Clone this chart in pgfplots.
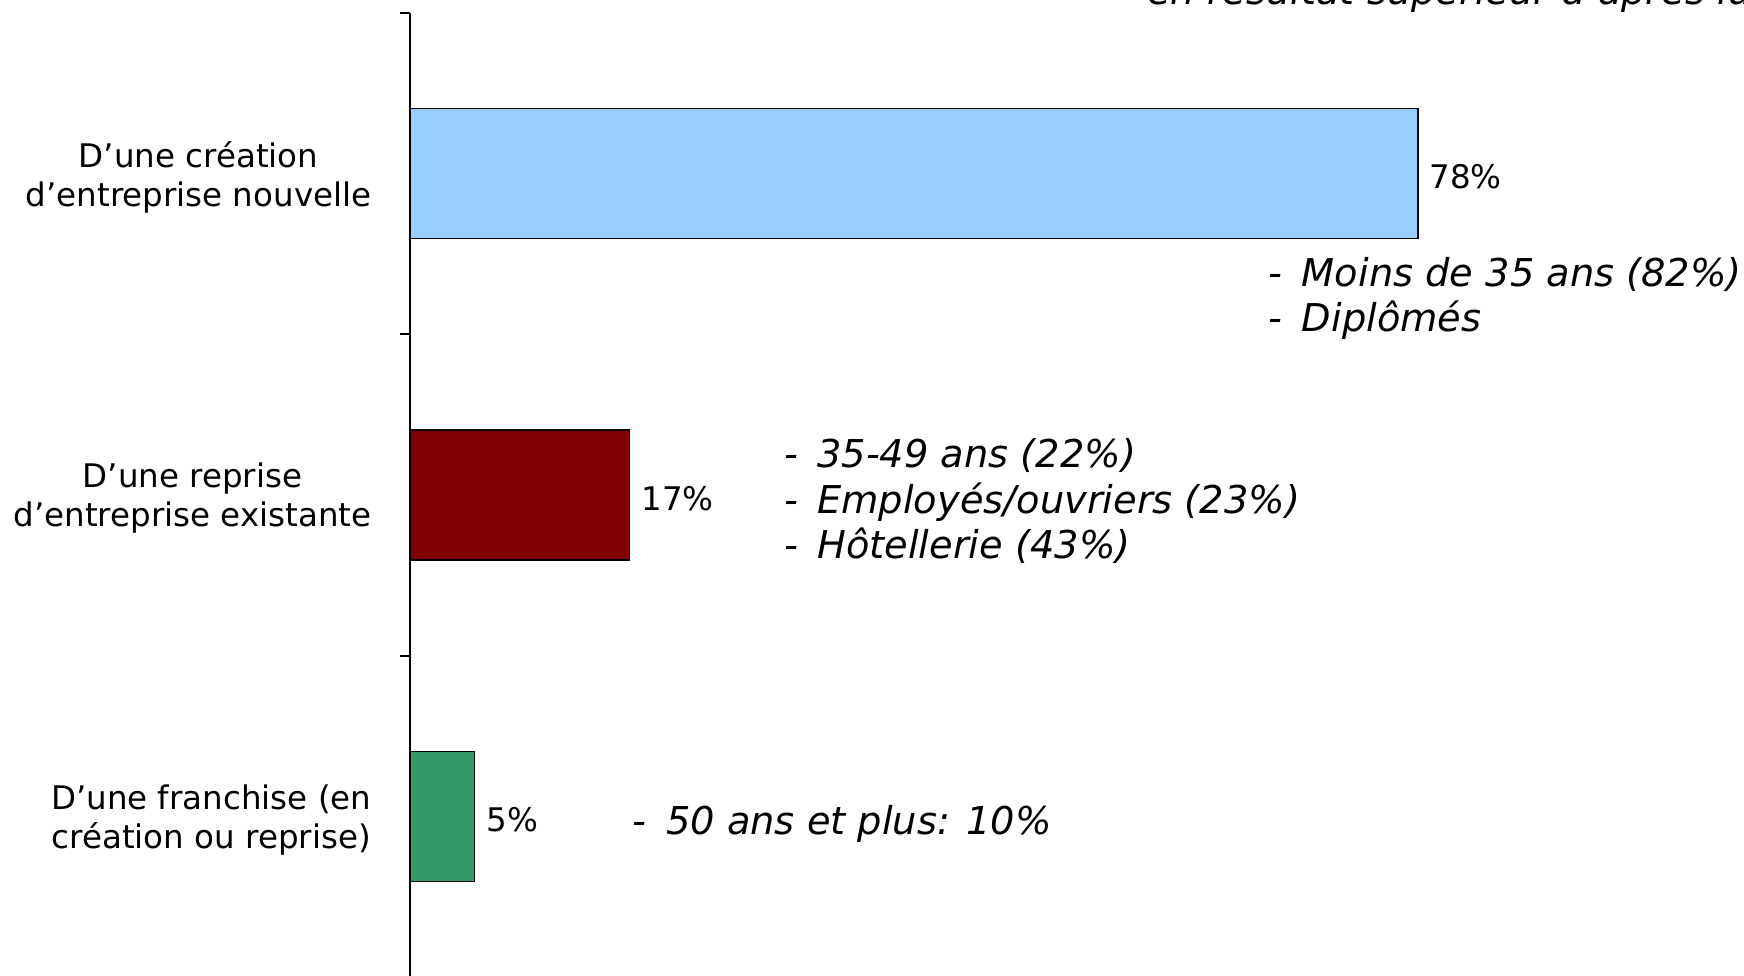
\documentclass[border=0pt]{standalone}
\usepackage{fontspec}
\setmainfont{DejaVu Sans}
\usepackage{pgfplots}
\pgfplotsset{compat=1.18}
\definecolor{barblue}{RGB}{153,204,255}
\definecolor{barred}{RGB}{128,0,0}
\definecolor{bargreen}{RGB}{51,153,102}
\newcommand{\lab}{\fontsize{9.75}{11.7}\selectfont}
\newcommand{\note}{\fontsize{11.5}{13.6}\selectfont\itshape}
\newcommand{\dash}{\makebox[10pt][l]{-}}

\begin{document}
\begin{tikzpicture}
\begin{axis}[
  name=ax,
  scale only axis, width=400.2pt, height=289.2pt,
  xbar, bar width=39pt, bar shift=0pt,
  xmin=0, xmax=103.25,
  ymin=-0.5, ymax=2.5, y dir=reverse,
  axis x line=none, axis y line*=left,
  ytick={0,1,2},
  yticklabels={{D’une création\\d’entreprise nouvelle},
               {D’une reprise\\d’entreprise existante},
               {D’une franchise (en\\création ou reprise)}},
  minor ytick={-0.5,0.5,1.5},
  tick align=outside, major tick length=0pt, minor tick length=3pt,
  yticklabel style={align=center,font=\lab,inner sep=0pt,yshift=-1pt},
  yticklabel shift=11.4pt,
  axis line style={line width=0.6pt},
  minor tick style={line width=0.6pt,black},
  clip=false,
  point meta=x,
  nodes near coords={\pgfmathprintnumber[assume math mode=true]{\pgfplotspointmeta}\%},
  every node near coord/.append style={font=\lab,inner sep=0pt,xshift=3.3pt,yshift=-1pt,anchor=west,black},
]
\addplot[fill=barblue,draw=black,line width=0.5pt,bar shift=0pt] coordinates {(78,0)};
\addplot[fill=barred,draw=black,line width=0.5pt,bar shift=0pt] coordinates {(17,1)};
\addplot[fill=bargreen,draw=black,line width=0.5pt,bar shift=0pt] coordinates {(5,2)};

% remarks beside the bars
\node[anchor=west,align=left,font=\note,inner sep=0pt,yshift=-1pt] at (axis cs:66.4,0.378)
  {\dash Moins de 35 ans (82\%)\\\dash Diplômés};
\node[anchor=west,align=left,font=\note,inner sep=0pt,yshift=-1pt] at (axis cs:28.9,1.009)
  {\dash 35-49 ans (22\%)\\\dash Employés/ouvriers (23\%)\\\dash Hôtellerie (43\%)};
\node[anchor=west,align=left,font=\note,inner sep=0pt,yshift=-1pt] at (axis cs:17.2,2.012)
  {\dash 50 ans et plus: 10\%};
\node[anchor=base west,font=\note,inner sep=0pt,yshift=0.6pt] at (axis cs:57.0,-0.519)
  {en résultat supérieur d’après lui};
\end{axis}
\pgfresetboundingbox
\path[use as bounding box] ([shift={(-123pt,3.9pt)}]ax.north west) rectangle ([shift={(0pt,0.3pt)}]ax.south east);
\end{tikzpicture}
\end{document}
